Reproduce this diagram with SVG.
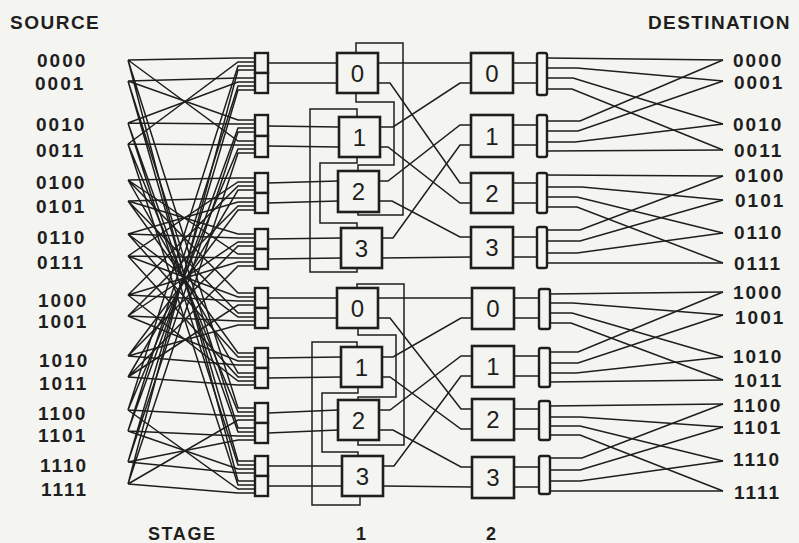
<svg xmlns="http://www.w3.org/2000/svg" width="799" height="543" viewBox="0 0 799 543">
<style>
.ln{fill:none;stroke:#1e1e1e;stroke-width:1.5;stroke-linejoin:miter}
.bx{fill:#f4f4f0;stroke:#1e1e1e;stroke-width:2.6}
.mx{fill:#f4f4f0;stroke:#1e1e1e;stroke-width:2.4}
.t{font-family:"Liberation Sans",Arial,sans-serif;font-weight:bold;fill:#1e1e1e}
.lab{font-size:19px;letter-spacing:2px}
.num{font-size:24px;font-weight:normal;text-anchor:middle}
.hd{font-size:19px}
</style>
<rect width="799" height="543" fill="#f4f4f0"/>

<g id="headers" class="t">
<text class="hd" x="10" y="29" letter-spacing="1.5">SOURCE</text>
<text class="hd" x="648" y="29" letter-spacing="1.4">DESTINATION</text>
<text x="148" y="540" font-size="18" letter-spacing="1.6">STAGE</text>
<text x="361" y="540" font-size="18" text-anchor="middle">1</text>
<text x="491" y="540" font-size="18" text-anchor="middle">2</text>
</g>

<g id="sources" class="t lab">
<text x="37" y="67">0000</text>
<text x="35" y="90">0001</text>
<text x="36" y="131">0010</text>
<text x="36" y="157">0011</text>
<text x="36" y="189">0100</text>
<text x="36" y="213">0101</text>
<text x="37" y="244">0110</text>
<text x="37" y="269">0111</text>
<text x="38" y="307">1000</text>
<text x="38" y="328">1001</text>
<text x="39" y="367">1010</text>
<text x="39" y="390">1011</text>
<text x="38" y="420">1100</text>
<text x="38" y="442">1101</text>
<text x="40" y="472">1110</text>
<text x="41" y="496">1111</text>
</g>

<g id="destinations" class="t lab">
<text x="733" y="67">0000</text>
<text x="734" y="89">0001</text>
<text x="733" y="131">0010</text>
<text x="734" y="157">0011</text>
<text x="735" y="182">0100</text>
<text x="735" y="207">0101</text>
<text x="734" y="239">0110</text>
<text x="734" y="270">0111</text>
<text x="733" y="299">1000</text>
<text x="735" y="324">1001</text>
<text x="733" y="363">1010</text>
<text x="734" y="387">1011</text>
<text x="733" y="412">1100</text>
<text x="733" y="434">1101</text>
<text x="733" y="466">1110</text>
<text x="734" y="499">1111</text>
</g>

<g id="connectors" class="ln">
<!-- sources to input multiplexers -->
<path d="M128 60L238 58H255M128 60L238 141H255M128 60L238 408H255M128 60L238 481H255"/>
<path d="M128 81L238 78H255M128 81L238 120H255M128 81L238 428H255M128 81L238 461H255"/>
<path d="M128 123L238 124H255M128 123L238 82H255M128 123L238 465H255M128 123L238 432H255"/>
<path d="M128 144L238 145H255M128 144L238 62H255M128 144L238 485H255M128 144L238 412H255"/>
<path d="M128 180L238 178H255M128 180L238 254H255M128 180L238 293H255M128 180L238 373H255"/>
<path d="M128 201L238 198H255M128 201L238 234H255M128 201L238 313H255M128 201L238 353H255"/>
<path d="M128 234L238 238H255M128 234L238 202H255M128 234L238 357H255M128 234L238 317H255"/>
<path d="M128 256L238 258H255M128 256L238 182H255M128 256L238 377H255M128 256L238 297H255"/>
<path d="M128 295L238 301H255M128 295L238 381H255M128 295L238 186H255M128 295L238 262H255"/>
<path d="M128 316L238 321H255M128 316L238 361H255M128 316L238 206H255M128 316L238 242H255"/>
<path d="M128 356L238 365H255M128 356L238 325H255M128 356L238 246H255M128 356L238 210H255"/>
<path d="M128 377L238 385H255M128 377L238 305H255M128 377L238 266H255M128 377L238 190H255"/>
<path d="M128 410L238 416H255M128 410L238 489H255M128 410L238 66H255M128 410L238 149H255"/>
<path d="M128 431L238 436H255M128 431L238 469H255M128 431L238 86H255M128 431L238 128H255"/>
<path d="M128 462L238 473H255M128 462L238 440H255M128 462L238 132H255M128 462L238 90H255"/>
<path d="M128 484L238 493H255M128 484L238 420H255M128 484L238 153H255M128 484L238 70H255"/>
<!-- input multiplexers to stage 1 -->
<path d="M268 63H337M268 83H337M268 126L339 127M268 146L339 147M268 183L338 181M268 203L338 201M268 239L341 238M268 259L341 258"/>
<path d="M268 298H337M268 318H337M268 358L341 357M268 378L341 377M268 413L338 410M268 433L338 430M268 466L342 466M268 486L342 486"/>
<!-- stage 1 auxiliary loops, upper group -->
<path d="M356 53V43H403V215H358V212"/>
<path d="M356 93V102H394V165H358V171"/>
<path d="M357 117V109H310V272H357V268"/>
<path d="M357 157V163H320V223H357V228"/>
<!-- stage 1 auxiliary loops, lower group -->
<path d="M357 288V284H404V445H358V440"/>
<path d="M358 328V335H396V397H358V400"/>
<path d="M357 347V342H312V505H360V496"/>
<path d="M358 387V393H322V452H358V456"/>
<!-- stage 1 to stage 2, upper -->
<path d="M378 63H471"/>
<path d="M378 83H390L460 183H471"/>
<path d="M380 127H393L460 83H471"/>
<path d="M380 147H388L460 203H471"/>
<path d="M379 181H388L460 125H471"/>
<path d="M379 201H392L460 237H471"/>
<path d="M382 238H393L460 145H471"/>
<path d="M382 258L471 257"/>
<!-- stage 1 to stage 2, lower -->
<path d="M378 298H472"/>
<path d="M378 318H390L461 409H472"/>
<path d="M382 357H393L461 318H472"/>
<path d="M382 377H390L461 429H472"/>
<path d="M379 410H390L461 356H472"/>
<path d="M379 430H393L461 467H472"/>
<path d="M383 466H394L461 376H472"/>
<path d="M383 486L472 487"/>
<!-- stage 2 to output demultiplexers -->
<path d="M513 63H537M513 83H537M513 125H537M513 145H537M513 183H537M513 203H537M513 237H537M513 257H537"/>
<path d="M514 298H539M514 318H539M514 356H539M514 376H539M514 409H539M514 429H539M514 467H539M514 487H539"/>
<!-- output demultiplexers to destinations -->
<path d="M547 58L723 60M547 68H577L723 81M547 78H573L723 124M547 89H572L723 150"/>
<path d="M547 121H580L723 60M547 131H578L723 81M547 142H575L723 124M547 151L723 150"/>
<path d="M547 175L723 176M547 187H582L723 200M547 197H577L723 233M547 207H577L723 263"/>
<path d="M547 230H580L723 176M547 241H580L723 200M547 253H577L723 233M547 263L723 263"/>
<path d="M550 294L723 292M550 303H573L723 315M550 313H572L723 357M550 323H571L723 380"/>
<path d="M550 352H578L723 292M550 363H578L723 315M550 373H576L723 357M550 382L723 380"/>
<path d="M550 406L723 404M550 417H580L723 427M550 426H580L723 461M550 435H580L723 491"/>
<path d="M550 458H582L723 404M550 470H580L723 427M550 481H580L723 461M550 491L723 491"/>
</g>

<g id="in-mux-0"><rect class="mx" x="255" y="53" width="13" height="20"/><rect class="mx" x="255" y="73" width="13" height="20"/></g>
<g id="in-mux-1"><rect class="mx" x="255" y="115" width="13" height="21"/><rect class="mx" x="255" y="136" width="13" height="21"/></g>
<g id="in-mux-2"><rect class="mx" x="255" y="173" width="13" height="20"/><rect class="mx" x="255" y="193" width="13" height="20"/></g>
<g id="in-mux-3"><rect class="mx" x="255" y="229" width="13" height="20"/><rect class="mx" x="255" y="249" width="13" height="20"/></g>
<g id="in-mux-4"><rect class="mx" x="255" y="288" width="13" height="20"/><rect class="mx" x="255" y="308" width="13" height="20"/></g>
<g id="in-mux-5"><rect class="mx" x="255" y="348" width="13" height="20"/><rect class="mx" x="255" y="368" width="13" height="20"/></g>
<g id="in-mux-6"><rect class="mx" x="255" y="403" width="13" height="20"/><rect class="mx" x="255" y="423" width="13" height="20"/></g>
<g id="in-mux-7"><rect class="mx" x="255" y="456" width="13" height="20"/><rect class="mx" x="255" y="476" width="13" height="20"/></g>

<g id="s1-upper-0"><rect class="bx" x="337" y="53" width="41" height="40"/><text class="t num" x="357.5" y="81.5">0</text></g>
<g id="s1-upper-1"><rect class="bx" x="339" y="117" width="41" height="40"/><text class="t num" x="359.5" y="145.5">1</text></g>
<g id="s1-upper-2"><rect class="bx" x="338" y="171" width="41" height="41"/><text class="t num" x="358.5" y="200">2</text></g>
<g id="s1-upper-3"><rect class="bx" x="341" y="228" width="41" height="40"/><text class="t num" x="361.5" y="256.5">3</text></g>
<g id="s1-lower-0"><rect class="bx" x="337" y="288" width="41" height="40"/><text class="t num" x="357.5" y="316.5">0</text></g>
<g id="s1-lower-1"><rect class="bx" x="341" y="347" width="41" height="40"/><text class="t num" x="361.5" y="375.5">1</text></g>
<g id="s1-lower-2"><rect class="bx" x="338" y="400" width="41" height="40"/><text class="t num" x="358.5" y="428.5">2</text></g>
<g id="s1-lower-3"><rect class="bx" x="342" y="456" width="41" height="40"/><text class="t num" x="362.5" y="484.5">3</text></g>

<g id="s2-upper-0"><rect class="bx" x="471" y="53" width="42" height="40"/><text class="t num" x="492" y="81.5">0</text></g>
<g id="s2-upper-1"><rect class="bx" x="471" y="115" width="42" height="42"/><text class="t num" x="492" y="144.5">1</text></g>
<g id="s2-upper-2"><rect class="bx" x="471" y="173" width="42" height="40"/><text class="t num" x="492" y="201.5">2</text></g>
<g id="s2-upper-3"><rect class="bx" x="471" y="227" width="42" height="41"/><text class="t num" x="492" y="256">3</text></g>
<g id="s2-lower-0"><rect class="bx" x="472" y="288" width="42" height="41"/><text class="t num" x="493" y="317">0</text></g>
<g id="s2-lower-1"><rect class="bx" x="472" y="346" width="42" height="41"/><text class="t num" x="493" y="375">1</text></g>
<g id="s2-lower-2"><rect class="bx" x="472" y="399" width="42" height="41"/><text class="t num" x="493" y="428">2</text></g>
<g id="s2-lower-3"><rect class="bx" x="472" y="457" width="42" height="41"/><text class="t num" x="493" y="486">3</text></g>

<g id="out-mux-0"><rect class="mx" x="537" y="53" width="10" height="42" rx="2"/></g>
<g id="out-mux-1"><rect class="mx" x="537" y="115" width="10" height="42" rx="2"/></g>
<g id="out-mux-2"><rect class="mx" x="537" y="173" width="10" height="40" rx="2"/></g>
<g id="out-mux-3"><rect class="mx" x="537" y="227" width="10" height="41" rx="2"/></g>
<g id="out-mux-4"><rect class="mx" x="539" y="289" width="11" height="40" rx="2"/></g>
<g id="out-mux-5"><rect class="mx" x="539" y="348" width="11" height="39" rx="2"/></g>
<g id="out-mux-6"><rect class="mx" x="539" y="401" width="11" height="39" rx="2"/></g>
<g id="out-mux-7"><rect class="mx" x="539" y="456" width="11" height="38" rx="2"/></g>
</svg>
